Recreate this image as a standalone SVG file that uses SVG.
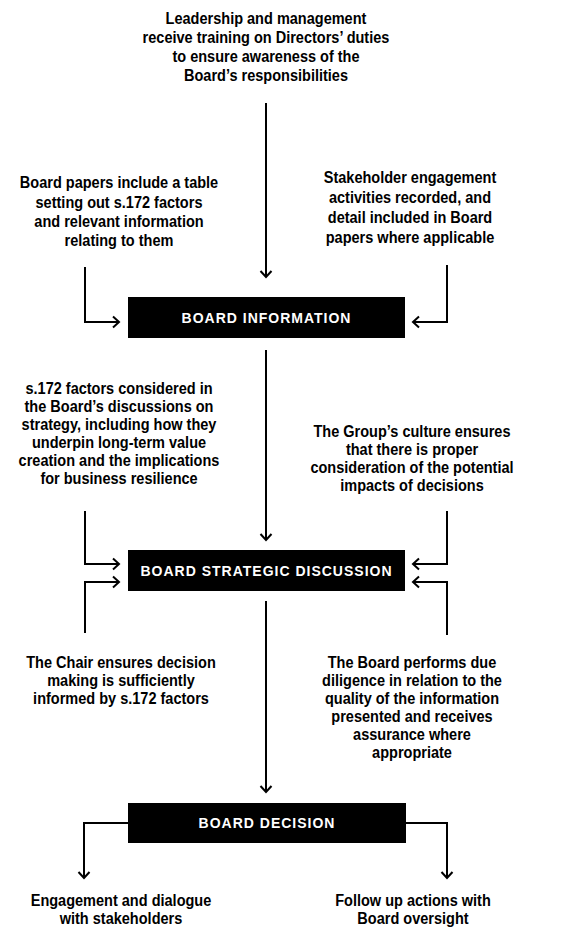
<svg xmlns="http://www.w3.org/2000/svg" width="576" height="936" viewBox="0 0 576 936">
<style>
.t{font-family:"Liberation Sans",Arial,sans-serif;font-size:16.5px;font-weight:bold;fill:#000;text-anchor:middle}
.box{fill:#000}
.bt{font-family:"Liberation Sans",Arial,sans-serif;font-size:14px;font-weight:bold;fill:#fff;text-anchor:middle;letter-spacing:1px}
.c{stroke:#000;stroke-width:2;fill:none}
</style>
<defs>
<marker id="ah" markerUnits="userSpaceOnUse" markerWidth="12" markerHeight="14" refX="7" refY="7" orient="auto">
<path d="M1,1.5 L7,7 L1,12.5" fill="none" stroke="#000" stroke-width="2"/>
</marker>
</defs>
<rect width="576" height="936" fill="#fff"/>
<g id="n-top" transform="translate(266,0) scale(0.88,1)">
<text class="t" x="0" y="24">Leadership and management</text>
<text class="t" x="0" y="43">receive training on Directors’ duties</text>
<text class="t" x="0" y="62">to ensure awareness of the</text>
<text class="t" x="0" y="81">Board’s responsibilities</text>
</g>
<g id="n-papers" transform="translate(119,0) scale(0.88,1)">
<text class="t" x="0" y="188">Board papers include a table</text>
<text class="t" x="0" y="208">setting out s.172 factors</text>
<text class="t" x="0" y="227">and relevant information</text>
<text class="t" x="0" y="246">relating to them</text>
</g>
<g id="n-stake" transform="translate(410,0) scale(0.88,1)">
<text class="t" x="0" y="183">Stakeholder engagement</text>
<text class="t" x="0" y="203">activities recorded, and</text>
<text class="t" x="0" y="223">detail included in Board</text>
<text class="t" x="0" y="243">papers where applicable</text>
</g>
<g id="n-info">
<rect class="box" x="128" y="297" width="277" height="41"/>
<text class="bt" x="266.5" y="322.5">BOARD INFORMATION</text>
</g>
<g id="n-factors" transform="translate(119,0) scale(0.88,1)">
<text class="t" x="0" y="394">s.172 factors considered in</text>
<text class="t" x="0" y="412">the Board’s discussions on</text>
<text class="t" x="0" y="430">strategy, including how they</text>
<text class="t" x="0" y="448">underpin long-term value</text>
<text class="t" x="0" y="466">creation and the implications</text>
<text class="t" x="0" y="484">for business resilience</text>
</g>
<g id="n-culture" transform="translate(412,0) scale(0.88,1)">
<text class="t" x="0" y="437">The Group’s culture ensures</text>
<text class="t" x="0" y="455">that there is proper</text>
<text class="t" x="0" y="473">consideration of the potential</text>
<text class="t" x="0" y="491">impacts of decisions</text>
</g>
<g id="n-strategic">
<rect class="box" x="128" y="550" width="277" height="41"/>
<text class="bt" x="266.5" y="575.5">BOARD STRATEGIC DISCUSSION</text>
</g>
<g id="n-chair" transform="translate(121,0) scale(0.88,1)">
<text class="t" x="0" y="668">The Chair ensures decision</text>
<text class="t" x="0" y="686">making is sufficiently</text>
<text class="t" x="0" y="704">informed by s.172 factors</text>
</g>
<g id="n-diligence" transform="translate(412,0) scale(0.88,1)">
<text class="t" x="0" y="668">The Board performs due</text>
<text class="t" x="0" y="686">diligence in relation to the</text>
<text class="t" x="0" y="704">quality of the information</text>
<text class="t" x="0" y="722">presented and receives</text>
<text class="t" x="0" y="740">assurance where</text>
<text class="t" x="0" y="758">appropriate</text>
</g>
<g id="n-decision">
<rect class="box" x="128" y="803" width="278" height="40"/>
<text class="bt" x="267" y="828">BOARD DECISION</text>
</g>
<g id="n-engage" transform="translate(121,0) scale(0.88,1)">
<text class="t" x="0" y="906">Engagement and dialogue</text>
<text class="t" x="0" y="924">with stakeholders</text>
</g>
<g id="n-follow" transform="translate(413,0) scale(0.88,1)">
<text class="t" x="0" y="906">Follow up actions with</text>
<text class="t" x="0" y="924">Board oversight</text>
</g>
<g id="connectors">
<path class="c" d="M266,103 V277" marker-end="url(#ah)"/>
<path class="c" d="M85,267 V322 H119" marker-end="url(#ah)"/>
<path class="c" d="M447,265 V322 H413" marker-end="url(#ah)"/>
<path class="c" d="M266,350 V540" marker-end="url(#ah)"/>
<path class="c" d="M85,511 V564 H119" marker-end="url(#ah)"/>
<path class="c" d="M447,511 V564 H413" marker-end="url(#ah)"/>
<path class="c" d="M85,633 V582 H119" marker-end="url(#ah)"/>
<path class="c" d="M447,635 V582 H413" marker-end="url(#ah)"/>
<path class="c" d="M266,601 V792" marker-end="url(#ah)"/>
<path class="c" d="M128,823 H84 V878" marker-end="url(#ah)"/>
<path class="c" d="M406,823 H447 V878" marker-end="url(#ah)"/>
</g>
</svg>
